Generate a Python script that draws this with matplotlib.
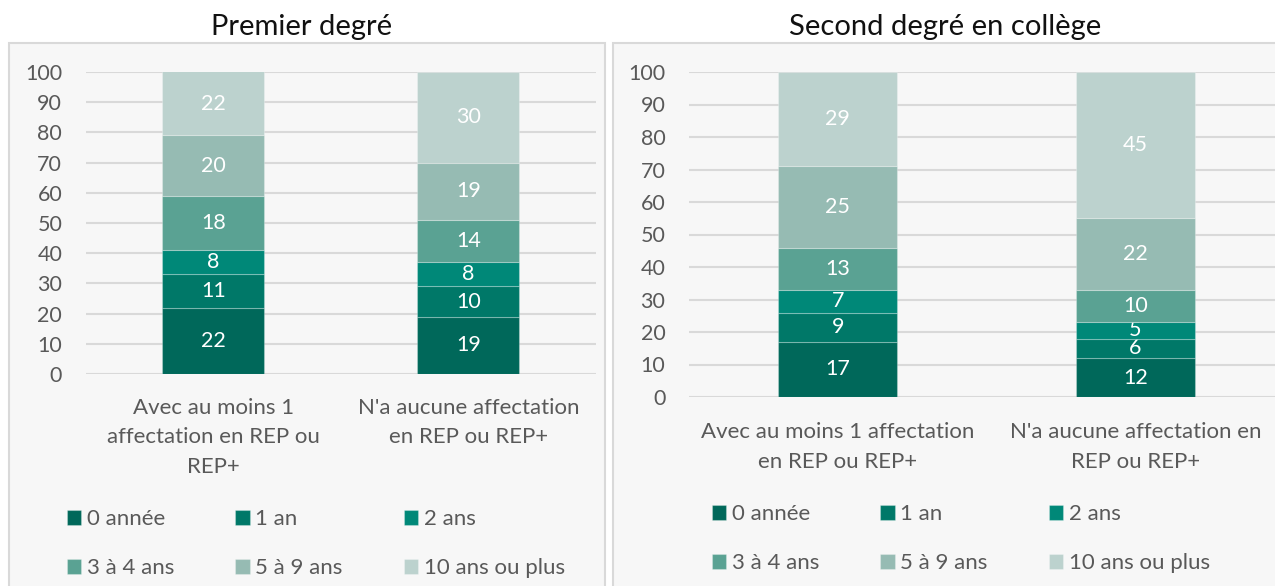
import numpy as np
import matplotlib.pyplot as plt
from matplotlib.patches import Rectangle

plt.rcParams['font.family'] = ['Lato', 'DejaVu Sans']

# categories / series
series = ['0 année', '1 an', '2 ans', '3 à 4 ans', '5 à 9 ans', '10 ans ou plus']
colors = ['#00685a', '#007868', '#008878', '#5aa293', '#96bbb3', '#bcd2ce']

cats_premier = ["Avec au moins 1\naffectation en REP ou\nREP+", "N'a aucune affectation\nen REP ou REP+"]
cats_college = ["Avec au moins 1 affectation\nen REP ou REP+", "N'a aucune affectation en\nREP ou REP+"]

# values per series, [avec, aucune]
premier = [[22, 19], [11, 10], [8, 8], [18, 14], [20, 19], [22, 30]]
college = [[17, 12], [9, 6], [7, 5], [13, 10], [25, 22], [29, 45]]

fig = plt.figure(figsize=(12.75, 5.86), dpi=100)
W, H = 1275, 586

# panel backgrounds
for x0, x1 in [(9, 605), (613, 1290)]:
    fig.patches.append(Rectangle((x0 / W, -0.1), (x1 - x0) / W, 1.1 - 43 / H,
                                 transform=fig.transFigure, facecolor='#f7f7f7',
                                 edgecolor='#d9d9d9', linewidth=1.5, zorder=-5))


def panel(rect, cats, data, title, title_x, leg_x, leg_y, xpad):
    ax = fig.add_axes(rect)
    ax.set_facecolor('none')
    x = np.arange(len(cats))
    bottom = np.zeros(len(cats))
    for name, vals, c in zip(series, data, colors):
        vals = np.array(vals, dtype=float)
        bars = ax.bar(x, vals, 0.4, bottom=bottom, color=c, label=name,
                      edgecolor=(1, 1, 1, 0.25), linewidth=0.8, zorder=3)
        ax.bar_label(bars, labels=[str(int(v)) for v in vals], label_type='center',
                     color='white', fontsize=15.5)
        bottom += vals
    ax.set_xlim(-0.5, len(cats) - 0.5)
    ax.set_ylim(0, 100)
    ax.set_yticks(range(0, 101, 10))
    ax.yaxis.grid(True, color='#d9d9d9', linewidth=1.5, zorder=0)
    ax.set_axisbelow(True)
    for s in ax.spines.values():
        s.set_visible(False)
    ax.tick_params(axis='y', length=0, pad=17, labelsize=15.5, labelcolor='#595959')
    ax.tick_params(axis='x', length=0, pad=xpad, labelsize=16, labelcolor='#595959')
    ax.set_xticks(x)
    ax.set_xticklabels(cats, linespacing=1.6)
    fig.text(title_x / W, 1 - 27 / H, title, ha='center', va='center',
             fontsize=21, color='#111111')
    h, l = ax.get_legend_handles_labels()
    order = [0, 3, 1, 4, 2, 5]
    fig.legend([h[i] for i in order], [l[i] for i in order], ncol=3,
               loc='upper left', bbox_to_anchor=(leg_x / W, 1 - leg_y / H),
               frameon=False, fontsize=16, labelcolor='#595959',
               handlelength=0.65, handleheight=0.65, handletextpad=0.25,
               columnspacing=2.75, labelspacing=1.3, borderaxespad=0, borderpad=0)
    return ax


panel([85.8 / W, 1 - 374 / H, 510 / W, 302 / H], cats_premier, premier,
      'Premier degré', 302, 67, 509, 17)
panel([689 / W, 1 - 397 / H, 595 / W, 325 / H], cats_college, college,
      'Second degré en collège', 945, 712, 504, 18)

fig.savefig('out.png', dpi=100)
